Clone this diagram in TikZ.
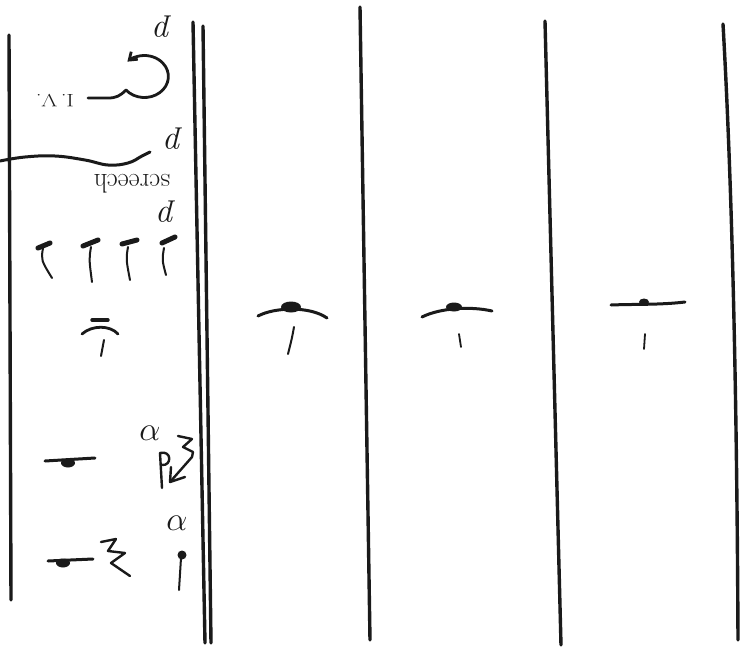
\documentclass[tikz,border=0pt]{standalone}
\usepackage{fontspec}
\usetikzlibrary{arrows.meta}
\begin{document}
\begin{tikzpicture}[x=1pt,y=-1pt,
  barline/.style={line width=3.4pt,color=ink,line cap=round},
  pen/.style={line width=2.4pt,color=ink,line cap=round,line join=round},
  blob/.style={fill=ink},
  hand/.style={color=ink,font=\itshape\fontsize{34}{34}\selectfont,inner sep=0pt}]
\definecolor{ink}{HTML}{1A1A1A}
\useasboundingbox (0,0) rectangle (748,654);
\fill[white] (0,0) rectangle (748,654);
% vertical bar lines
\draw[barline] (9,35) -- (11,600);
\draw[barline] (193,22) -- (205,643);
\draw[barline] (203,26) -- (211,643);
\draw[barline] (360,7) -- (370,640);
\draw[barline] (545,21) -- (561,645);
\draw[barline] (723,24) .. controls (733,200) and (737,420) .. (738,640);
% circle arrow with tail
\draw[pen,line width=2.8pt,-{Straight Barb[length=7pt,width=10pt]}] (88,98) -- (108,98) .. controls (116,98) and (120,96) .. (126,90)
  arc[start angle=140,end angle=-135,x radius=24,y radius=21];
\node[hand,rotate=180,font=\fontsize{18}{18}\selectfont] (iv) at (55,100) {\scalebox{1.25}[1]{I.\,V.}};
% p marks
\node[hand,rotate=180] (p1) at (163,27) {p};
\node[hand,rotate=180] (p2) at (174,139) {p};
\node[hand,rotate=180] (p3) at (167,212) {p};
% wavy line
\draw[pen,line width=3pt] plot[smooth,tension=0.7] coordinates {(0,161) (25,157) (55,156) (85,160) (108,165) (128,163) (142,156) (150,152)};
\node[hand,rotate=180,font=\fontsize{27}{27}\selectfont] (scr) at (132,184) {screech};
% four notes
\foreach \hx/\hy/\hxx/\hyy/\sx/\sy/\ex/\ey in {38/248/50/243/43/248/52/278, 83/246/98/240/91/247/92/282, 122/244/137/240/128/247/130/280, 162/243/175/237/164/248/166/275}{
  \draw[pen,line width=5pt] (\hx,\hy) -- (\hxx,\hyy);
  \draw[pen,line width=2pt] (\sx,\sy) .. controls (\sx-2,\sy+12) .. (\ex,\ey);
}
% hat in left column
\draw[pen,line width=3.4pt] (92,320) -- (108,320);
\draw[pen,line width=2.8pt] (82,334) .. controls (92,325) and (110,325) .. (118,334);
\draw[pen,line width=2pt] (104,340) -- (101,356);
% hats in other columns
\draw[pen,line width=3pt] (258,316) .. controls (275,307) and (310,306) .. (327,318);
\fill[blob] (291,307) ellipse[x radius=10,y radius=5.5];
\draw[pen,line width=2pt] (294,327) .. controls (292,338) .. (288,354);
\draw[pen,line width=3pt] (422,317) .. controls (440,308) and (470,306) .. (492,311);
\fill[blob] (454,307) ellipse[x radius=8,y radius=4.5];
\draw[pen,line width=1.8pt] (459,334) -- (461,347);
\draw[pen,line width=3pt] (611,305) .. controls (635,304) and (660,305) .. (685,302);
\fill[blob] (644,302) ellipse[x radius=5,y radius=3.5];
\draw[pen,line width=1.8pt] (645,334) -- (644,349);
% lower left column
\draw[pen,line width=3pt] (45,461) -- (95,458);
\fill[blob] (68,463) ellipse[x radius=7,y radius=4.5];
\node[hand] (a1) at (150,433) {\scalebox{1.35}{$\alpha$}};
\draw[pen,line width=2.4pt] (178,436) -- (192,439) -- (183,447) -- (193,452) -- (192,457) -- (170,482);
\draw[pen,line width=2.4pt] (171,467) -- (170,482) -- (185,477);
\draw[pen,line width=2.4pt] (160,453) -- (162,488);
\draw[pen,line width=2.4pt] (160,453) .. controls (172,450) and (172,466) .. (162,465);
\node[hand] (a2) at (177,523) {\scalebox{1.35}{$\alpha$}};
\draw[pen,line width=3pt] (48,561) -- (93,559);
\fill[blob] (63,563) ellipse[x radius=7,y radius=4.5];
\draw[pen,line width=2.4pt] (101,542) -- (116,539) -- (108,551) -- (125,553) -- (111,563) -- (130,576);
\fill[blob] (182,555) circle[radius=4.5];
\draw[pen,line width=2pt] (181,558) -- (179,590);
\end{tikzpicture}
\end{document}
